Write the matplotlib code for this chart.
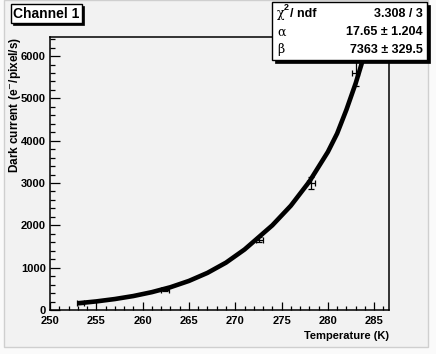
import matplotlib
matplotlib.use("Agg")
import matplotlib.pyplot as plt
from matplotlib.patches import Rectangle

# measured points
temp = [253.3, 262.4, 272.6, 278.2, 283.0]
dark = [160, 480, 1660, 3000, 5600]
temp_err = [0.4, 0.4, 0.4, 0.4, 0.4]
dark_err = [30, 30, 60, 140, 300]

# fit curve
fit_t = [253, 255, 257, 259, 261, 263, 265, 267, 269, 271, 272.4,
         274, 276, 278, 280, 281, 282, 283, 284, 284.4]
fit_v = [159, 203, 259, 330, 422, 538, 687, 877, 1119, 1429, 1695,
         2000, 2464, 3034, 3735, 4170, 4730, 5355, 6071, 6380]

W, H = 436, 354
FONT = ["Liberation Sans Narrow", "Liberation Sans"]


def fx(px):
    return px / W


def fy(py):
    return 1 - py / H


fig = plt.figure(figsize=(W / 100, H / 100), dpi=100, facecolor="#fafafa")
# pad
fig.patches.append(Rectangle((fx(4), fy(347)), fx(424), 347 / H, transform=fig.transFigure,
                             facecolor="#f2f2f2", edgecolor="#cfcfcf", lw=1, zorder=-5))

ax = fig.add_axes([fx(50), fy(310), fx(339), 273 / H])
ax.set_zorder(1)
ax.set_facecolor("#f2f2f2")
ax.plot(fit_t, fit_v, color="black", lw=3.3, solid_capstyle="butt", zorder=3)
ax.errorbar(temp, dark, xerr=temp_err, yerr=dark_err, fmt="none", ecolor="black",
            elinewidth=0.9, capsize=2, capthick=0.9, zorder=4)

ax.set_xlim(250, 286.6)
ax.set_ylim(0, 6450)
ax.set_xticks(range(250, 290, 5))
ax.set_xticks(range(250, 287), minor=True)
ax.set_yticks(range(0, 7000, 1000))
ax.set_yticks(range(0, 6450, 200), minor=True)
ax.tick_params(axis="x", which="major", direction="in", length=5.5, width=0.9, pad=4)
ax.tick_params(axis="x", which="minor", direction="in", length=2.8, width=0.9)
ax.tick_params(axis="y", which="major", direction="in", length=7.5, width=0.9, pad=3)
ax.tick_params(axis="y", which="minor", direction="in", length=3.8, width=0.9)
for lab in ax.get_xticklabels() + ax.get_yticklabels():
    lab.set_fontfamily(FONT)
    lab.set_fontweight("bold")
    lab.set_fontsize(8)
for s in ax.spines.values():
    s.set_linewidth(1.1)

ax.set_xlabel("Temperature (K)", loc="right", fontfamily=FONT, fontweight="bold", fontsize=8)
ax.xaxis.set_label_coords(1.0, -0.077)
ax.set_ylabel("Dark current (e$^{-}$/pixel/s)", loc="top", fontfamily=FONT,
              fontweight="bold", fontsize=8.5)
ax.yaxis.set_label_coords(-0.08, 1.0)


def box(x0, y0, x1, y1, sh):
    fig.patches.append(Rectangle((fx(x0 + sh), fy(y1 + sh)), fx(x1 - x0), (y1 - y0) / H,
                                 transform=fig.transFigure, facecolor="black",
                                 edgecolor="black", lw=0.5, zorder=5))
    fig.patches.append(Rectangle((fx(x0), fy(y1)), fx(x1 - x0), (y1 - y0) / H,
                                 transform=fig.transFigure, facecolor="white",
                                 edgecolor="black", lw=1, zorder=6))


# title box
box(11, 4, 82, 23, 2)
fig.text(fx(46.5), fy(13.5), "Channel 1", ha="center", va="center", fontfamily=FONT,
         fontweight="bold", fontsize=10, zorder=7)

# stats box
box(272, 2, 427, 60, 3)
rows = [14, 32, 50]
fig.text(fx(277), fy(rows[0]), "χ", ha="left", va="center", fontfamily="DejaVu Serif",
         fontsize=9, zorder=7)
fig.text(fx(284), fy(7), "2", ha="left", va="center", fontfamily=FONT,
         fontweight="bold", fontsize=6.5, zorder=7)
fig.text(fx(290), fy(rows[0]), "/ ndf", ha="left", va="center", fontfamily=FONT,
         fontweight="bold", fontsize=9, zorder=7)
fig.text(fx(277), fy(rows[1]), "α", ha="left", va="center", fontfamily="DejaVu Serif",
         fontsize=9, zorder=7)
fig.text(fx(277), fy(rows[2]), "β", ha="left", va="center", fontfamily="DejaVu Serif",
         fontsize=9, zorder=7)
values = ["3.308 / 3", "17.65 ± 1.204", "7363 ± 329.5"]
for r, v in zip(rows, values):
    fig.text(fx(423), fy(r), v, ha="right", va="center", fontfamily=FONT,
             fontweight="bold", fontsize=9, zorder=7)

fig.savefig("out.png", dpi=100, facecolor=fig.get_facecolor())
